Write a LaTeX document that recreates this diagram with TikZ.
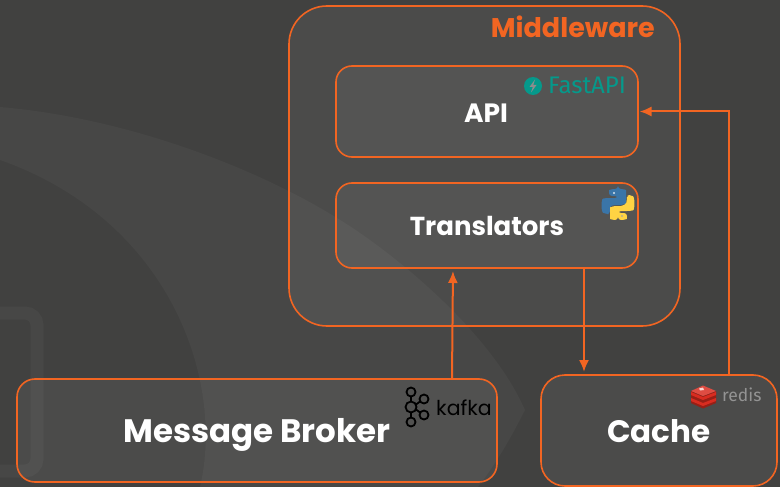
\documentclass[tikz,border=0pt]{standalone}
\usepackage{fontspec}
\setmainfont{Poppins}
\newfontfamily\logofont{Fira Sans}
\usetikzlibrary{arrows.meta,calc}
\definecolor{bgdark}{HTML}{414140}
\definecolor{bgband}{HTML}{474746}
\definecolor{orangeline}{HTML}{F26522}
\definecolor{fastteal}{HTML}{05998B}
\definecolor{pyblue}{HTML}{3A75A8}
\definecolor{pyyellow}{HTML}{FFD343}
\definecolor{redisred}{HTML}{D82C20}
\tikzset{
  box/.style={draw=orangeline,line width=1.6pt,fill=white,fill opacity=0.055,rounded corners=#1,anchor=north west,inner sep=0pt,outer sep=0pt},
  flow/.style={draw=orangeline,line width=2pt,-{Latex[length=12pt,width=10pt]}},
  title/.style={text=white,inner sep=0pt,anchor=base},
}
\begin{document}
\begin{tikzpicture}[x=1pt,y=-1pt]
\useasboundingbox (0,0) rectangle (780,487);
\fill[bgdark] (0,0) rectangle (780,487);
% background swoosh
\fill[bgband] (0,107) .. controls (130,118) and (260,170) .. (337,218) .. controls (390,250) and (490,330) .. (525,410) .. controls (510,440) and (495,465) .. (478,487) -- (200,487) .. controls (225,380) and (170,220) .. (0,160) -- cycle;
\draw[bgband,line width=13pt,rounded corners=12pt] (-20,313) -- (37,313) -- (37,471) -- (-20,471);
% boxes
\node[box=38pt,minimum width=391pt,minimum height=320pt] (mwbox) at (289,6) {};
\node[box=16pt,minimum width=302pt,minimum height=91pt] (apibox) at (336,66) {};
\node[box=16pt,minimum width=302pt,minimum height=85pt] (trbox) at (336,183) {};
\node[box=18pt,minimum width=480pt,minimum height=103pt] (mbbox) at (17,379) {};
\node[box=24pt,minimum width=236pt,minimum height=111pt] (cabox) at (541,375) {};
% text nodes
\node[text=orangeline,font=\bfseries\fontsize{27}{30}\selectfont,inner sep=0pt,anchor=base east] (mwt) at (655,37.5) {Middleware};
\node[title,font=\bfseries\fontsize{26.5}{30}\selectfont] (api) at (486,122) {API};
\node[title,font=\bfseries\fontsize{26}{30}\selectfont] (tr) at (487,235.5) {Translators};
\node[title,font=\bfseries\fontsize{32.5}{36}\selectfont] (mb) at (257,442.5) {Message Broker};
\node[title,font=\bfseries\fontsize{31}{36}\selectfont] (ca) at (659,442.5) {Cache};
% connectors
\draw[flow,shorten >=3pt] ($(mbbox.north west)+(435,0)$) -- ($(trbox.south west)+(117,0)$);
\draw[flow,shorten >=3pt] ($(trbox.south west)+(248,0)$) -- ($(cabox.north west)+(43,0)$);
\draw[flow,shorten >=1.5pt] ($(cabox.north west)+(188,0)$) |- (apibox.east);
% FastAPI logo
\node[text=fastteal,font=\logofont\fontsize{24}{26}\selectfont,inner sep=0pt,anchor=base west] (fa) at (548,94) {FastAPI};
\fill[fastteal] (533,86) circle (9);
\fill[bgdark!60!white] (535,79.5) -- (529.5,87) -- (532.8,87) -- (531,92.5) -- (536.5,85) -- (533.2,85) -- cycle;
% Python logo
\fill[pyblue,rounded corners=3pt] (618,189) -- (612,189) .. controls (609,190) and (609,192) .. (609,196) -- (618,196) -- (618,198) -- (606,198) .. controls (601,199) and (601,212) .. (606,214) -- (610,214) -- (610,209) .. controls (611,206) and (614,205) .. (618,205) -- (623,205) .. controls (625,204) and (626,203) .. (626,201) -- (626,193) .. controls (626,190) and (623,189) .. (618,189) -- cycle;
\fill[pyyellow,rounded corners=3pt] (618,220) -- (624,220) .. controls (627,219) and (627,217) .. (627,213) -- (618,213) -- (618,211) -- (630,211) .. controls (635,210) and (635,197) .. (630,195) -- (627,195) -- (627,200) .. controls (626,204) and (623,206) .. (618,206) -- (613,206) .. controls (611,207) and (610,208) .. (610,210) -- (610,216) .. controls (610,219) and (613,220) .. (618,220) -- cycle;
\fill[white!80!pyblue] (614,193) circle (1.2);
\fill[white!80!pyyellow!70!black] (622,216) circle (1.2);
% Kafka logo
\begin{scope}[black,line width=1.8pt]
\draw (411,392) circle (4.5);
\draw (411,422) circle (4.5);
\draw (411,407) circle (5.5);
\draw (424,399) circle (4.5);
\draw (424,415) circle (4.5);
\draw (411,396.5) -- (411,401.5) (411,412.5) -- (411,417.5) (416,404.5) -- (420,401.5) (416,409.5) -- (420,412.5);
\end{scope}
\node[text=black,font=\fontsize{20.5}{24}\selectfont,inner sep=0pt,anchor=base west] (ka) at (436,415) {kafka};
% Redis logo
\fill[redisred!70!black] (691,391) -- (703,396) -- (716,391) -- (716,403) -- (703,408.5) -- (691,403) -- cycle;
\fill[redisred] (691,398) -- (703,403) -- (716,398) -- (716,401) -- (703,406) -- (691,401) -- cycle;
\fill[redisred] (691,392) -- (703,397) -- (716,392) -- (716,395) -- (703,400) -- (691,395) -- cycle;
\fill[redisred!85!white] (691,391) -- (703,385.5) -- (716,391) -- (703,396) -- cycle;
\fill[white!80!redisred] (699,388.5) -- (703,387.5) -- (704,390) -- (700,390.5) -- cycle;
\node[text=gray!85!white,font=\logofont\fontsize{17.5}{20}\selectfont,inner sep=0pt,anchor=base west] (re) at (722,401) {redis};
\end{tikzpicture}
\end{document}
